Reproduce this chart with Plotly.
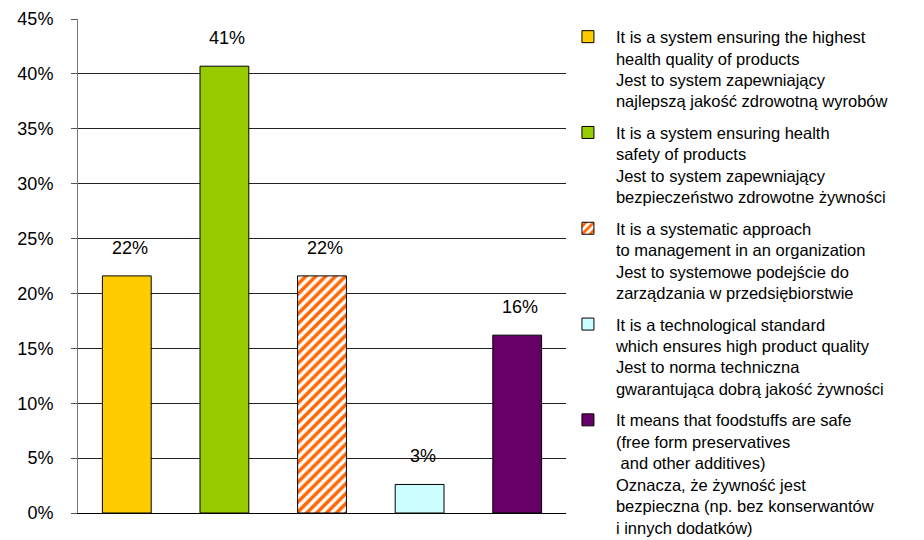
import plotly.graph_objects as go

# Survey answers: what the food safety system means to respondents
categories = ["A", "B", "C", "D", "E"]
shares = [0.216, 0.407, 0.216, 0.026, 0.162]
legend_labels = [
    "It is a system ensuring the highest<br>health quality of products<br>Jest to system zapewniający<br>najlepszą jakość zdrowotną wyrobów",
    "It is a system ensuring health<br>safety of products<br>Jest to system zapewniający<br>bezpieczeństwo zdrowotne żywności",
    "It is a systematic approach<br>to management in an organization<br>Jest to systemowe podejście do<br>zarządzania w przedsiębiorstwie",
    "It is a technological standard<br>which ensures high product quality<br>Jest to norma techniczna<br>gwarantująca dobrą jakość żywności",
    "It means that foodstuffs are safe<br>(free form preservatives<br>\u00a0and other additives)<br>Oznacza, że żywność jest<br>bezpieczna (np. bez konserwantów<br>i innych dodatków)",
]
colors = ["#FFCC00", "#99CC00", "#FF6600", "#CCFFFF", "#660066"]
hatched = [False, False, True, False, False]
y_ticks = [0, 0.05, 0.10, 0.15, 0.20, 0.25, 0.30, 0.35, 0.40, 0.45]

FONT = "Liberation Sans, Arial, sans-serif"

fig = go.Figure()
for i, (cat, val, name, col, hatch) in enumerate(
        zip(categories, shares, legend_labels, colors, hatched)):
    marker = dict(color=col, line=dict(color="#000000", width=1))
    if hatch:
        marker = dict(
            color="#FFFFFF",
            line=dict(color="#000000", width=1),
            pattern=dict(shape="/", fgcolor=col, bgcolor="#FFFFFF",
                         size=7, solidity=0.5, fillmode="replace"),
        )
    fig.add_trace(go.Bar(x=[cat], y=[val], name=name, marker=marker,
                         width=0.5, showlegend=True, legendgroup=f"g{i}"))
    fig.add_annotation(x=cat, y=val, text=f"{val:.0%}", showarrow=False,
                       yanchor="middle", yshift=28, xshift=3,
                       font=dict(family=FONT, size=18, color="#000000"))

fig.update_layout(
    width=924, height=540,
    margin=dict(l=78, r=358, t=19, b=27, autoexpand=False),
    paper_bgcolor="#FFFFFF", plot_bgcolor="#FFFFFF",
    font=dict(family=FONT, size=16, color="#000000"),
    barmode="overlay",
    showlegend=True,
    legend=dict(
        xref="container", yref="container",
        x=0.606, xanchor="left", y=0.964, yanchor="top",
        valign="top", tracegroupgap=7, traceorder="grouped",
        itemwidth=46, maxheight=540,
        font=dict(family=FONT, size=16.5, color="#000000"),
        bgcolor="rgba(0,0,0,0)", itemclick=False,
    ),
    xaxis=dict(
        type="category", categoryorder="array", categoryarray=categories,
        showticklabels=False, ticks="", showgrid=False,
        showline=True, linecolor="#000000", linewidth=1,
        zeroline=False, range=[-0.5, 4.5],
    ),
    yaxis=dict(
        range=[0, 0.45], tickvals=y_ticks, tickformat=".0%",
        showgrid=True, gridcolor="#222222", gridwidth=1,
        ticks="outside", ticklen=6, tickcolor="#555555",
        ticklabelstandoff=14,
        showline=True, linecolor="#777777", linewidth=1,
        zeroline=False, tickfont=dict(family=FONT, size=18),
    ),
)

fig.write_html("out.html")
